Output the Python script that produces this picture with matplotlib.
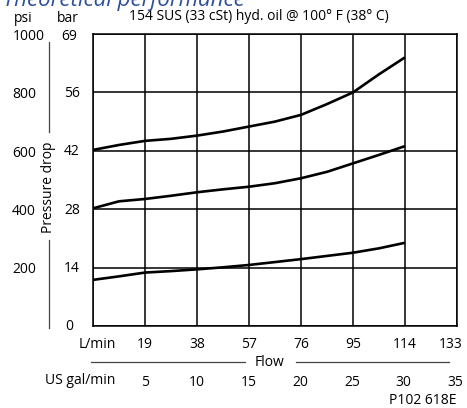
import matplotlib
matplotlib.use("Agg")
import matplotlib.pyplot as plt
import numpy as np

# Data (flow in L/min, pressure drop in psi)
flow_lpm = [0, 9.5, 19, 28.5, 38, 47.5, 57, 66.5, 76, 85.5, 95, 104.5, 114]
curve_top = [603, 620, 634, 641, 652, 666, 683, 700, 723, 760, 800, 862, 920]
curve_mid = [403, 427, 435, 446, 458, 468, 477, 489, 506, 528, 557, 586, 616]
curve_low = [158, 170, 183, 188, 194, 201, 209, 219, 229, 240, 251, 266, 285]

lpm_ticks = [19, 38, 57, 76, 95, 114, 133]
gpm_ticks = [5, 10, 15, 20, 25, 30, 35]
psi_ticks = [200, 400, 600, 800, 1000]
bar_ticks = [14, 28, 42, 56, 69]

plt.rcParams['font.family'] = ['Open Sans', 'DejaVu Sans']

fig = plt.figure(figsize=(4.67, 4.08), dpi=100)
W, H = 467, 408
ax = fig.add_axes([93 / W, (H - 326) / H, 364 / W, 292 / H])
ax.set_xlim(0, 133)
ax.set_ylim(0, 1000)
ax.set_xticks([0] + lpm_ticks)
ax.set_yticks([0] + psi_ticks)
ax.grid(True, color='black', lw=1.1)
ax.tick_params(length=0, labelbottom=False, labelleft=False)
for s in ax.spines.values():
    s.set_linewidth(1.1)

for c in (curve_top, curve_mid, curve_low):
    ax.plot(flow_lpm, c, color='black', lw=1.9, solid_capstyle='butt', zorder=3)

fs = 10
blend_y = matplotlib.transforms.blended_transform_factory(fig.transFigure, ax.transData)
blend_x = matplotlib.transforms.blended_transform_factory(ax.transData, fig.transFigure)

def fy(py):
    return (H - py) / H

def fx(px):
    return px / W

# y labels
for p, b in zip(psi_ticks[:-1], bar_ticks[:-1]):
    ax.text(fx(36), p - 8, str(p), transform=blend_y, ha='right', va='center', fontsize=fs)
    ax.text(fx(72), p - 4, str(b), transform=blend_y, ha='center', va='center', fontsize=fs)
fig.text(fx(45), fy(37), str(psi_ticks[-1]), ha='right', va='center', fontsize=fs)
fig.text(fx(69), fy(37), str(bar_ticks[-1]), ha='center', va='center', fontsize=fs)
fig.text(fx(69), fy(327), "0", ha='center', va='center', fontsize=fs)
fig.text(fx(23), fy(19), "psi", ha='center', va='center', fontsize=fs)
fig.text(fx(68), fy(19), "bar", ha='center', va='center', fontsize=fs)
fig.text(fx(259), fy(17), "154 SUS (33 cSt) hyd. oil @ 100° F (38° C)", ha='center', va='center', fontsize=fs)

# Pressure drop axis label with line
fig.text(fx(48), fy(187), "Pressure drop", rotation=90, ha='center', va='center', fontsize=fs)
fig.add_artist(plt.Line2D([fx(49), fx(49)], [fy(42), fy(132)], color='#444444', lw=0.9))
fig.add_artist(plt.Line2D([fx(49), fx(49)], [fy(240), fy(328)], color='#444444', lw=0.9))

# x labels
fig.text(fx(97), fy(344), "L/min", ha='center', va='center', fontsize=fs)
for v in lpm_ticks:
    xpos = v if v < 133 else v - 2.5
    ax.text(xpos, fy(344), str(v), transform=blend_x, ha='center', va='center', fontsize=fs)
fig.text(fx(80), fy(381), "US gal/min", ha='center', va='center', fontsize=fs)
for g in gpm_ticks:
    ax.text(g * 3.785, fy(382), str(g), transform=blend_x, ha='center', va='center', fontsize=fs)
fig.text(fx(270), fy(362), "Flow", ha='center', va='center', fontsize=fs)
fig.add_artist(plt.Line2D([fx(91), fx(245)], [fy(362), fy(362)], color='#444444', lw=0.9))
fig.add_artist(plt.Line2D([fx(296), fx(449)], [fy(362), fy(362)], color='#444444', lw=0.9))

fig.text(fx(423), fy(400), "P102 618E", ha='center', va='center', fontsize=fs)

# Title (cut off at top)
fig.text(fx(3), fy(6), "Theoretical performance", ha='left', va='baseline',
         fontsize=16, style='italic', color='#2e4f9a')

fig.savefig("out.png", dpi=100)
